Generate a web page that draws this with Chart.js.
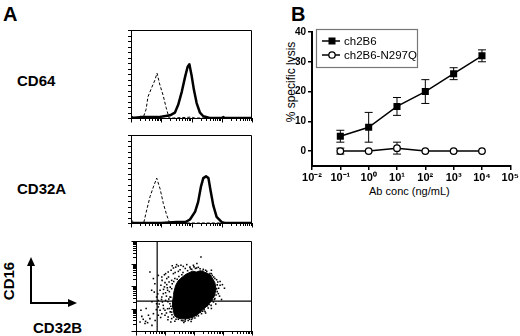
<!DOCTYPE html>
<html>
<head>
<meta charset="utf-8">
<script src="https://cdn.jsdelivr.net/npm/chart.js@4.4.0/dist/chart.umd.min.js"></script>
<style>
  body { margin: 0; width: 520px; height: 336px; background: #fff; position: relative; overflow: hidden;
         font-family: "Liberation Sans", Arial, sans-serif; color: #000; }
  canvas, svg { position: absolute; }
  .t { position: absolute; white-space: nowrap; line-height: 1; }
  .b { font-weight: bold; }
  .rot { transform: translate(-50%, -50%) rotate(-90deg); }
</style>
</head>
<body>
<div class="t b" style="left:3px;top:4px;font-size:20px;">A</div>
<div class="t b" style="left:291px;top:4px;font-size:20px;">B</div>
<div class="t b" style="left:17px;top:73px;font-size:15px;">CD64</div>
<div class="t b" style="left:17px;top:181px;font-size:15px;">CD32A</div>
<div class="t b rot" style="left:8px;top:281px;font-size:15px;">CD16</div>
<div class="t b" style="left:33px;top:320px;font-size:15px;">CD32B</div>
<div class="t rot" style="left:291px;top:82px;font-size:12px;">% specific lysis</div>
<div class="t" style="left:369px;top:186px;font-size:11px;">Ab conc (ng/mL)</div>

<svg style="left:0;top:0" width="110" height="336">
  <path d="M31 304 V264" stroke="#000" stroke-width="2" fill="none"/>
  <polygon points="31,257 27,266 35,266" fill="#000"/>
  <path d="M30 303 H70" stroke="#000" stroke-width="2" fill="none"/>
  <polygon points="77,303 68,299 68,307" fill="#000"/>
</svg>

<canvas id="hist1" width="140" height="110" style="left:120px;top:20px"></canvas>
<canvas id="hist2" width="140" height="110" style="left:120px;top:125px"></canvas>
<canvas id="dots" width="140" height="105" style="left:120px;top:231px"></canvas>
<canvas id="lysis" width="240" height="210" style="left:280px;top:0px"></canvas>

<script>
// ---- panel A: flow cytometry (x in log10 fluorescence decades) ----
const flowDecades = [0, 1, 2, 3, 4];
const minorSteps = [1, 2, 3, 4, 5, 6, 7, 8, 9];
const histCountTicks = [0, 6.25, 12.5, 18.75, 25, 31.25, 37.5, 43.75, 50, 56.25, 62.5, 68.75, 75, 81.25, 87.5, 93.75, 100];

// CD64 histogram: isotype (dashed) and stained (solid)
const cd64IsoX = [0, 0.1, 0.3, 0.4, 0.5, 0.56, 0.69, 0.79, 0.86, 0.96, 1.06, 1.16, 1.26, 1.4, 2.0, 2.1, 2.5, 4];
const cd64IsoY = [3, 0, 0, 0, 10, 24, 35, 43, 51, 37, 26, 12, 0, 0, 1, 0, 0, 0];
const cd64X = [0, 0.3, 0.6, 0.9, 1.1, 1.29, 1.45, 1.56, 1.68, 1.79, 1.87, 1.93, 2.0, 2.08, 2.17, 2.28, 2.39, 2.6, 3.0, 3.05, 3.1, 3.5, 4];
const cd64Y = [0, 1, 1, 1, 2, 3, 6, 15, 30, 47, 58, 61, 49, 32, 17, 6, 2, 0, 0, 1, 0, 0, 0];

// CD32A histogram
const cd32aIsoX = [0, 0.1, 0.35, 0.42, 0.5, 0.63, 0.74, 0.85, 0.96, 1.07, 1.18, 1.28, 1.5, 4];
const cd32aIsoY = [4, 0, 0, 0, 12, 30, 41, 51, 39, 22, 9, 0, 0, 0];
const cd32aX = [0, 1.0, 1.5, 1.8, 1.95, 2.12, 2.22, 2.31, 2.39, 2.48, 2.56, 2.63, 2.72, 2.83, 3.0, 3.1, 4];
const cd32aY = [0, 0, 1, 1, 4, 13, 24, 41, 51, 53, 51, 37, 20, 7, 1, 0, 0];

// CD32B (x) vs CD16 (y) dot plot
const gateCD32B = 0.73;
const gateCD16 = 1.33;
const denseCore = [
  [1.32, 0.70], [1.27, 1.05], [1.26, 1.30], [1.29, 1.55], [1.30, 1.70], [1.37, 2.03], [1.45, 2.22],
  [1.55, 2.35], [1.72, 2.52], [1.95, 2.66], [2.08, 2.62], [2.22, 2.68], [2.44, 2.58], [2.55, 2.50],
  [2.62, 2.38], [2.72, 2.15], [2.76, 1.86], [2.70, 1.55], [2.62, 1.40], [2.58, 1.30], [2.40, 1.05],
  [2.30, 0.95], [2.22, 0.83], [2.00, 0.64], [1.78, 0.55], [1.56, 0.54], [1.40, 0.60], [1.32, 0.70]
];
const sparseEvents = [
  [0.89, 2.40], [0.98, 2.50], [1.06, 2.33], [1.11, 2.62], [1.21, 2.70], [1.29, 2.80], [1.37, 2.84],
  [1.46, 2.89], [1.55, 2.92], [1.63, 2.87], [1.75, 2.95], [1.86, 2.84], [1.98, 2.92], [2.09, 2.80],
  [2.21, 2.77], [2.32, 2.74], [2.44, 2.65], [2.55, 2.55], [2.63, 2.47], [2.72, 2.33], [2.82, 2.18],
  [2.90, 2.03], [2.98, 2.06], [2.78, 1.88], [2.84, 1.66], [2.72, 1.44], [2.67, 1.29], [2.59, 1.14],
  [2.49, 1.02], [2.38, 0.87], [2.26, 0.77], [2.15, 0.67], [2.03, 0.58], [1.92, 0.52], [1.80, 0.47],
  [1.69, 0.43], [1.57, 0.47], [1.46, 0.52], [1.34, 0.43], [1.23, 0.55], [1.11, 0.62], [1.00, 0.70],
  [0.89, 0.77], [0.83, 0.92], [0.77, 1.07], [0.71, 1.21], [0.77, 1.36], [0.89, 1.51], [0.94, 1.66],
  [0.83, 1.81], [0.98, 1.96], [1.06, 2.06], [1.14, 2.18], [1.23, 2.25], [1.09, 1.81], [1.02, 1.36],
  [1.17, 1.21], [1.09, 0.99], [1.23, 0.84], [0.94, 1.14], [0.63, 1.73], [0.54, 1.81], [0.60, 2.33],
  [0.48, 2.62], [0.77, 2.47], [2.24, 3.29], [0.17, 0.92], [0.33, 0.43], [0.40, 0.37], [0.25, 0.52],
  [0.48, 0.55], [0.14, 0.40], [0.43, 0.70], [0.60, 0.77], [0.66, 0.47], [0.31, 0.33], [0.77, 0.70],
  [0.71, 1.51], [1.29, 2.55], [1.46, 2.65], [1.92, 2.74], [2.49, 2.40], [2.70, 1.96], [2.63, 1.59],
  [2.44, 1.21], [2.21, 0.84], [1.80, 0.62], [1.40, 0.70], [1.23, 0.99], [1.17, 1.51], [1.23, 1.88],
  [1.34, 2.33], [0.91, 1.29], [1.00, 0.92], [0.86, 2.03],
  [1.20, 1.50], [1.15, 1.75], [1.18, 1.95], [1.25, 2.10], [1.30, 2.20], [1.42, 2.30], [1.48, 2.42],
  [1.58, 2.50], [1.62, 2.60], [1.78, 2.68], [1.88, 2.76], [2.05, 2.78], [2.15, 2.83], [2.30, 2.66],
  [2.40, 2.70], [2.52, 2.50], [2.60, 2.55], [2.68, 2.40], [2.78, 2.28], [2.80, 2.05], [2.85, 1.90],
  [2.80, 1.75], [2.76, 1.60], [2.70, 1.40], [2.63, 1.38], [2.52, 1.18], [2.46, 1.12], [2.35, 0.95],
  [2.30, 0.88], [2.12, 0.75], [2.08, 0.68], [1.95, 0.58], [1.85, 0.52], [1.70, 0.50], [1.62, 0.46],
  [1.50, 0.57], [1.38, 0.52], [1.30, 0.62], [1.24, 0.72], [1.18, 0.85], [1.15, 1.00], [1.20, 1.10],
  [1.10, 1.30], [1.13, 1.42], [1.05, 1.55], [1.02, 1.70], [1.08, 1.92], [1.00, 2.15], [1.12, 2.40],
  [1.35, 2.60], [1.52, 2.72], [1.70, 2.78], [2.00, 2.85], [2.55, 2.38], [2.90, 2.20], [2.88, 1.55],
  [2.60, 1.00], [2.40, 0.80], [1.65, 0.38], [1.20, 0.40], [1.05, 0.80], [0.95, 1.00], [0.88, 1.40],
  [0.95, 1.85], [1.02, 2.55], [1.40, 2.95], [2.10, 3.00], [2.60, 2.70], [3.05, 1.90], [2.95, 1.40],
  [2.75, 1.20], [1.90, 0.42], [1.10, 0.50], [0.85, 0.60], [0.70, 0.95], [0.80, 1.20], [0.75, 1.65],
  [0.90, 2.25], [1.25, 2.90], [0.65, 2.10], [0.55, 1.30], [0.35, 1.00], [0.20, 0.65], [0.55, 0.25]
];

// ---- panel B: ADCC lysis ----
const concentrations = [0.1, 1, 10, 100, 1000, 10000];
const ch2B6Lysis = [5, 8, 15, 20, 26, 32];
const ch2B6Err = [2, 5, 3, 4, 2, 2];
const n297qLysis = [0, 0, 1, 0, 0, 0];
const n297qErr = [1, 0, 2, 0, 0, 0];
const seriesNames = ['ch2B6', 'ch2B6-N297Q'];
const xTickValues = [0.01, 0.1, 1, 10, 100, 1000, 10000, 100000];
const xTickLabels = ['10⁻²', '10⁻¹', '10⁰', '10¹', '10²', '10³', '10⁴', '10⁵'];
const yTickValues = [0, 10, 20, 30, 40];

Chart.defaults.font.family = '"Liberation Sans", Arial, sans-serif';
Chart.defaults.color = '#000';

const pts = (xs, ys) => xs.map((x, i) => ({x: x, y: ys[i]}));

// log-style tick positions in decade units
function decadeTicks() {
  const t = [];
  for (let d = 0; d < flowDecades.length - 1; d++) {
    minorSteps.forEach(m => t.push(flowDecades[d] + Math.log10(m)));
  }
  t.push(flowDecades[flowDecades.length - 1]);
  return t;
}

function flowAxis(size, min, max) {
  return {
    type: 'linear', min: min, max: max,
    border: {display: true, color: '#000', width: 1},
    grid: {display: false},
    ticks: {display: false},
    afterFit: s => { if (s.isHorizontal()) s.height = size; else s.width = size; }
  };
}

// box frame + outward tick marks (longer at decades)
const flowFramePlugin = {
  id: 'flowFrame',
  afterDraw(chart, args, opts) {
    const a = chart.chartArea, ctx = chart.ctx;
    const xs = chart.scales.x, ys = chart.scales.y;
    ctx.save();
    ctx.strokeStyle = '#000';
    ctx.lineWidth = 1;
    ctx.beginPath();
    ctx.moveTo(a.left, a.top + 0.5);
    ctx.lineTo(a.right - 0.5, a.top + 0.5);
    ctx.lineTo(a.right - 0.5, a.bottom);
    ctx.stroke();
    ctx.beginPath();
    decadeTicks().forEach(v => {
      const major = Math.abs(v - Math.round(v)) < 1e-9;
      const px = Math.round(xs.getPixelForValue(v)) + 0.5;
      ctx.moveTo(px, a.bottom);
      ctx.lineTo(px, a.bottom + (major ? 4.5 : 3));
    });
    const yt = opts.logY ? decadeTicks() : histCountTicks;
    yt.forEach(v => {
      const major = opts.logY && Math.abs(v - Math.round(v)) < 1e-9;
      const py = Math.round(ys.getPixelForValue(v)) + 0.5;
      ctx.moveTo(a.left, py);
      ctx.lineTo(a.left - (major ? 4.5 : 3), py);
    });
    ctx.stroke();
    ctx.restore();
  }
};

function histogram(id, isoX, isoY, posX, posY) {
  new Chart(document.getElementById(id), {
    type: 'line',
    data: {
      datasets: [
        {data: pts(isoX, isoY), borderColor: '#000', borderWidth: 1, borderDash: [3, 2], pointRadius: 0},
        {data: pts(posX, posY), borderColor: '#000', borderWidth: 2.5, pointRadius: 0, borderJoinStyle: 'round'}
      ]
    },
    options: {
      responsive: false, animation: false,
      layout: {padding: {left: 0, top: 10, right: 8, bottom: 0}},
      plugins: {legend: {display: false}, tooltip: {enabled: false}, flowFrame: {logY: false}},
      scales: {x: flowAxis(12, 0, 4), y: flowAxis(11, 0, 100)}
    },
    plugins: [flowFramePlugin]
  });
}

histogram('hist1', cd64IsoX, cd64IsoY, cd64X, cd64Y);
histogram('hist2', cd32aIsoX, cd32aIsoY, cd32aX, cd32aY);

new Chart(document.getElementById('dots'), {
  type: 'scatter',
  data: {
    datasets: [
      {data: denseCore.map(p => ({x: p[0], y: p[1]})), showLine: true, fill: 'shape',
       backgroundColor: '#000', borderColor: '#000', borderWidth: 1, pointRadius: 0},
      {data: sparseEvents.map(p => ({x: p[0], y: p[1]})), pointStyle: 'rect', pointRadius: 1.1,
       backgroundColor: '#000', borderWidth: 0},
      {data: [{x: gateCD32B, y: 0}, {x: gateCD32B, y: 4}], showLine: true, borderColor: '#000', borderWidth: 1.2, pointRadius: 0},
      {data: [{x: 0, y: gateCD16}, {x: 4, y: gateCD16}], showLine: true, borderColor: '#000', borderWidth: 1.2, pointRadius: 0}
    ]
  },
  options: {
    responsive: false, animation: false,
    layout: {padding: {left: 0, top: 10, right: 8, bottom: 0}},
    plugins: {legend: {display: false}, tooltip: {enabled: false}, flowFrame: {logY: true}},
    scales: {x: flowAxis(5, 0, 4), y: flowAxis(16, 0, 4)}
  },
  plugins: [flowFramePlugin]
});

// ---- panel B chart ----
const errorBarPlugin = {
  id: 'errorBars',
  beforeDatasetsDraw(chart) {
    const ctx = chart.ctx, xs = chart.scales.x, ys = chart.scales.y;
    ctx.save();
    ctx.strokeStyle = '#000';
    ctx.lineWidth = 1;
    chart.data.datasets.forEach(ds => {
      ds.data.forEach((p, j) => {
        const e = ds.errors[j];
        if (!e) return;
        const px = xs.getPixelForValue(p.x);
        const top = ys.getPixelForValue(p.y + e), bot = ys.getPixelForValue(p.y - e);
        ctx.beginPath();
        ctx.moveTo(px, top); ctx.lineTo(px, bot);
        ctx.moveTo(px - 4, top); ctx.lineTo(px + 4, top);
        ctx.moveTo(px - 4, bot); ctx.lineTo(px + 4, bot);
        ctx.stroke();
      });
    });
    ctx.restore();
  }
};

const boxLegendPlugin = {
  id: 'boxLegend',
  afterDraw(chart) {
    const ctx = chart.ctx, a = chart.chartArea;
    const left = a.left + 4, top = a.top - 3, w = 101, h = 38;
    ctx.save();
    ctx.fillStyle = '#fff';
    ctx.fillRect(left, top, w, h);
    ctx.strokeStyle = '#777';
    ctx.lineWidth = 1.2;
    ctx.strokeRect(left + 0.5, top + 0.5, w, h);
    chart.data.datasets.forEach((ds, i) => {
      const y = top + 12 + i * 14;
      ctx.strokeStyle = '#000';
      ctx.lineWidth = 1.5;
      ctx.beginPath();
      ctx.moveTo(left + 6, y); ctx.lineTo(left + 24, y);
      ctx.stroke();
      const mx = left + 16;
      if (ds.pointStyle === 'rect') {
        ctx.fillStyle = '#000';
        ctx.fillRect(mx - 3.5, y - 3.5, 7, 7);
      } else {
        ctx.fillStyle = '#fff';
        ctx.lineWidth = 1.3;
        ctx.beginPath();
        ctx.arc(mx, y, 3.2, 0, Math.PI * 2);
        ctx.fill(); ctx.stroke();
      }
      ctx.fillStyle = '#000';
      ctx.font = '11.5px "Liberation Sans", Arial, sans-serif';
      ctx.textBaseline = 'middle';
      ctx.fillText(ds.label, left + 28, y + 0.5);
    });
    ctx.restore();
  }
};

new Chart(document.getElementById('lysis'), {
  type: 'line',
  data: {
    datasets: [
      {label: seriesNames[0], data: pts(concentrations, ch2B6Lysis), errors: ch2B6Err,
       borderColor: '#000', borderWidth: 1.5, pointStyle: 'rect', pointRadius: 5,
       pointBackgroundColor: '#000', pointBorderColor: '#000', pointBorderWidth: 0},
      {label: seriesNames[1], data: pts(concentrations, n297qLysis), errors: n297qErr,
       borderColor: '#000', borderWidth: 1.5, pointStyle: 'circle', pointRadius: 3.3,
       pointBackgroundColor: '#fff', pointBorderColor: '#000', pointBorderWidth: 1.3}
    ]
  },
  options: {
    responsive: false, animation: false,
    layout: {padding: {left: 0, top: 32, right: 9, bottom: 0}},
    plugins: {legend: {display: false}, tooltip: {enabled: false}},
    scales: {
      x: {
        type: 'logarithmic', min: 0.01, max: 100000,
        border: {display: true, color: '#000', width: 2},
        grid: {drawOnChartArea: false, drawTicks: true, tickLength: 4, color: '#000', lineWidth: 1.5},
        ticks: {font: {size: 11, weight: 'bold'}, padding: 1, autoSkip: false, maxRotation: 0,
                callback: (v, i) => xTickLabels[i]},
        afterBuildTicks: s => { s.ticks = xTickValues.map(v => ({value: v})); },
        afterFit: s => { s.height = 44; }
      },
      y: {
        type: 'linear', min: -5, max: 40,
        border: {display: true, color: '#000', width: 2},
        grid: {drawOnChartArea: false, drawTicks: true, tickLength: 4, color: '#000', lineWidth: 1.5},
        ticks: {font: {size: 10, weight: 'bold'}, padding: 2},
        afterBuildTicks: s => { s.ticks = yTickValues.map(v => ({value: v})); },
        afterFit: s => { s.width = 32; }
      }
    }
  },
  plugins: [errorBarPlugin, boxLegendPlugin]
});
</script>
</body>
</html>
